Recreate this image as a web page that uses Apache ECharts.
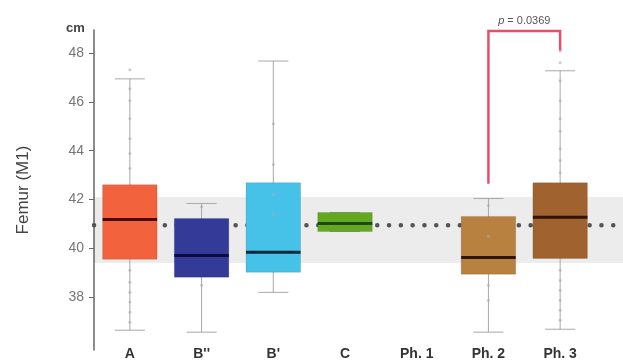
<!DOCTYPE html>
<html>
<head>
<meta charset="utf-8">
<script src="https://cdn.jsdelivr.net/npm/echarts@6/dist/echarts.min.js"></script>
<style>
html, body { margin: 0; padding: 0; background: #fff; }
#chart { width: 623px; height: 363px; }
</style>
</head>
<body>
<div id="chart"></div>
<script>
var categories = ['A', "B''", "B'", 'C', 'Ph. 1', 'Ph. 2', 'Ph. 3'];
var yTicks = [38, 40, 42, 44, 46, 48];

// min, Q1, median, Q3, max
var boxA   = [36.65, 39.55, 41.18, 42.61, 46.94];
var boxB2  = [36.57, 38.82, 39.71, 41.22, 41.84];
var boxB1  = [38.20, 39.02, 39.84, 42.69, 47.67];
var boxC   = [40.69, 40.69, 41.02, 41.47, 41.47];
var boxPh1 = null; // no data
var boxPh2 = [36.57, 38.94, 39.63, 41.31, 42.04];
var boxPh3 = [36.69, 39.59, 41.27, 42.69, 47.27];
var boxStats = [boxA, boxB2, boxB1, boxC, boxPh1, boxPh2, boxPh3];

// individual values visible along the whiskers
var ptsA   = [47.31, 46.53, 46.04, 45.31, 44.49, 43.88, 43.27, 39.1, 38.61, 38.2, 37.8, 37.39, 36.98];
var ptsB2  = [41.7, 38.49];
var ptsB1  = [45.1, 43.43, 42.2, 41.4];
var ptsPh2 = [41.76, 40.5, 38.49, 37.88];
var ptsPh3 = [48.08, 47.6, 46.86, 46.04, 45.31, 44.8, 44.08, 43.6, 43.1, 39.1, 38.69, 38.29, 37.88, 37.47, 37.06];
var points = [ptsA, ptsB2, ptsB1, [], [], ptsPh2, ptsPh3];

var meanValue = 40.95;
var bandRange = [39.4, 42.1];

var pLabel = '0.0369';
var bracketFrom = 42.65, bracketTop = 48.9, bracketTo = 48.1;

var boxColors = ['#f2623c', '#343a98', '#46c1e8', '#62a820', null, '#b98140', '#a0622f'];
var medianColors = ['#4a0c06', '#0c0c3a', '#08283c', '#1c4a04', null, '#2e1404', '#2e1404'];

var yMin = 35.84, yMax = 48.94;

var boxData = [];
boxStats.forEach(function (s, i) {
    if (s) boxData.push([i].concat(s));
});
var pointData = [];
points.forEach(function (list, i) {
    list.forEach(function (v) { pointData.push([i, v]); });
});

function renderBox(params, api) {
    var i = api.value(0);
    var lo = api.coord([i, api.value(1)]);
    var q1 = api.coord([i, api.value(2)]);
    var md = api.coord([i, api.value(3)]);
    var q3 = api.coord([i, api.value(4)]);
    var hi = api.coord([i, api.value(5)]);
    var band = api.size([1, 0])[0];
    var bw = band * 0.76, cw = band * 0.42;
    var x = lo[0];
    var wStyle = { stroke: '#a8a8a8', lineWidth: 1 };
    return {
        type: 'group',
        children: [
            { type: 'line', shape: { x1: x, y1: hi[1], x2: x, y2: lo[1] }, style: wStyle },
            { type: 'line', shape: { x1: x - cw / 2, y1: hi[1], x2: x + cw / 2, y2: hi[1] }, style: wStyle },
            { type: 'line', shape: { x1: x - cw / 2, y1: lo[1], x2: x + cw / 2, y2: lo[1] }, style: wStyle },
            { type: 'rect', shape: { x: x - bw / 2, y: q3[1], width: bw, height: q1[1] - q3[1] },
              style: { fill: boxColors[i], stroke: 'rgba(0,0,0,0.12)', lineWidth: 1 } },
            { type: 'line', shape: { x1: x - bw / 2, y1: md[1], x2: x + bw / 2, y2: md[1] },
              style: { stroke: medianColors[i], lineWidth: 3 } }
        ]
    };
}

function renderBracket(params, api) {
    var a = api.coord([api.value(0), api.value(1)]);
    var t = api.coord([api.value(0), api.value(2)]);
    var b = api.coord([api.value(3), api.value(4)]);
    return {
        type: 'group',
        children: [
            { type: 'polyline', shape: { points: [[a[0], a[1]], [t[0], t[1]], [b[0], t[1]], [b[0], b[1]]] },
              style: { stroke: '#e4506c', lineWidth: 2.5, fill: null } },
            { type: 'text', x: (a[0] + b[0]) / 2, y: t[1] - 5,
              style: { text: '{i|p} = ' + pLabel, align: 'center', verticalAlign: 'bottom',
                       fill: '#555', fontSize: 11, fontFamily: 'Liberation Sans',
                       rich: { i: { fontStyle: 'italic', fontSize: 11, fill: '#555' } } } }
        ]
    };
}

var chart = echarts.init(document.getElementById('chart'));
chart.setOption({
    animation: false,
    grid: [
        { left: 94, right: 27, top: 30, bottom: 13 },
        { left: 94, right: 0, top: 30, bottom: 13 }
    ],
    graphic: [{
        type: 'text', left: 66, top: 22,
        style: { text: 'cm', fontSize: 13, fontWeight: 'bold', fill: '#444', fontFamily: 'Liberation Sans' }
    }],
    xAxis: [{
        type: 'category',
        data: categories,
        gridIndex: 0,
        axisLine: { show: false },
        axisTick: { show: false },
        axisLabel: { margin: -3, fontSize: 14, fontWeight: 'bold', color: '#333', fontFamily: 'Liberation Sans' }
    }, {
        type: 'value', gridIndex: 1, min: 0, max: 1, show: false
    }],
    yAxis: [{
        type: 'value',
        gridIndex: 0,
        min: yMin,
        max: yMax,
        name: 'Femur (M1)',
        nameLocation: 'middle',
        nameGap: 62,
        nameTextStyle: { fontSize: 17, color: '#444', fontFamily: 'Liberation Sans' },
        axisLine: { show: true, lineStyle: { color: '#666', width: 1.5 } },
        axisTick: { show: true, length: 5, customValues: yTicks, lineStyle: { color: '#666' } },
        axisLabel: { customValues: yTicks, fontSize: 14, color: '#777', margin: 10, fontFamily: 'Liberation Sans' },
        splitLine: { show: false }
    }, {
        type: 'value', gridIndex: 1, min: yMin, max: yMax, show: false
    }],
    series: [{
        type: 'line',
        xAxisIndex: 1,
        yAxisIndex: 1,
        z: 1,
        symbol: 'none',
        data: [[0, meanValue], [1, meanValue]],
        lineStyle: { color: '#555', width: 4.5, type: [0.1, 11.7], cap: 'round' },
        markArea: {
            silent: true,
            itemStyle: { color: 'rgba(0,0,0,0.075)' },
            data: [[{ yAxis: bandRange[0] }, { yAxis: bandRange[1] }]]
        }
    }, {
        type: 'custom',
        z: 3,
        renderItem: renderBox,
        data: boxData
    }, {
        type: 'scatter',
        z: 4,
        symbolSize: 3,
        itemStyle: { color: 'rgba(170,170,170,0.75)' },
        data: pointData
    }, {
        type: 'custom',
        z: 5,
        clip: false,
        renderItem: renderBracket,
        data: [[5, bracketFrom, bracketTop, 6, bracketTo]]
    }]
});
</script>
</body>
</html>
